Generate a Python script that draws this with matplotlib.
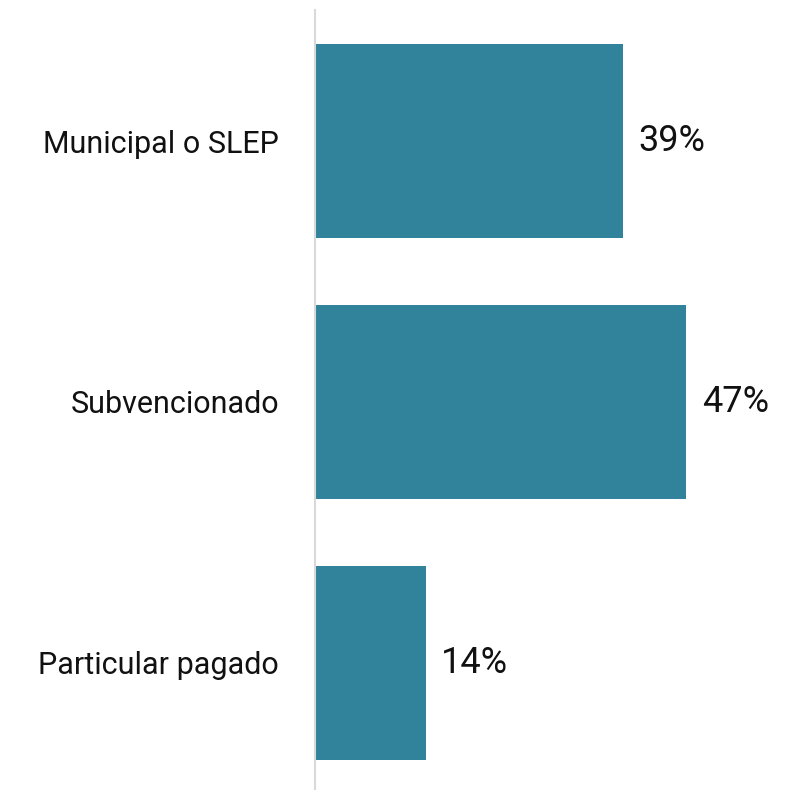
import matplotlib
matplotlib.use("Agg")
import matplotlib.pyplot as plt

categories = ["Municipal o SLEP", "Subvencionado", "Particular pagado"]
values = [39, 47, 14]
value_labels = ["39%", "47%", "14%"]

BAR = "#31839C"
plt.rcParams["font.family"] = ["Roboto", "DejaVu Sans"]

fig = plt.figure(figsize=(7.86, 7.90), dpi=100)
ax = fig.add_axes([315 / 786, 0.0, 1 - 315 / 786, 780 / 790])

ypos = range(len(categories))
ax.barh(ypos, values, height=0.743, color=BAR)
for y, v, lab in zip(ypos, values, value_labels):
    ax.annotate(lab, (v, y), xytext=(11, 0), textcoords="offset points",
                va="center", ha="left", fontsize=26, color="#111111")

ax.set_xlim(0, 471 / 7.9)
ax.set_ylim(2.487, -0.502)
ax.set_yticks(list(ypos))
ax.set_yticklabels(categories, fontsize=22, color="#111111")
ax.tick_params(axis="y", length=0, pad=26)
ax.set_xticks([])
for s in ["top", "right", "bottom"]:
    ax.spines[s].set_visible(False)
ax.spines["left"].set_color("#d9d9d9")
ax.spines["left"].set_linewidth(1.5)

fig.savefig("out.png", dpi=100)
